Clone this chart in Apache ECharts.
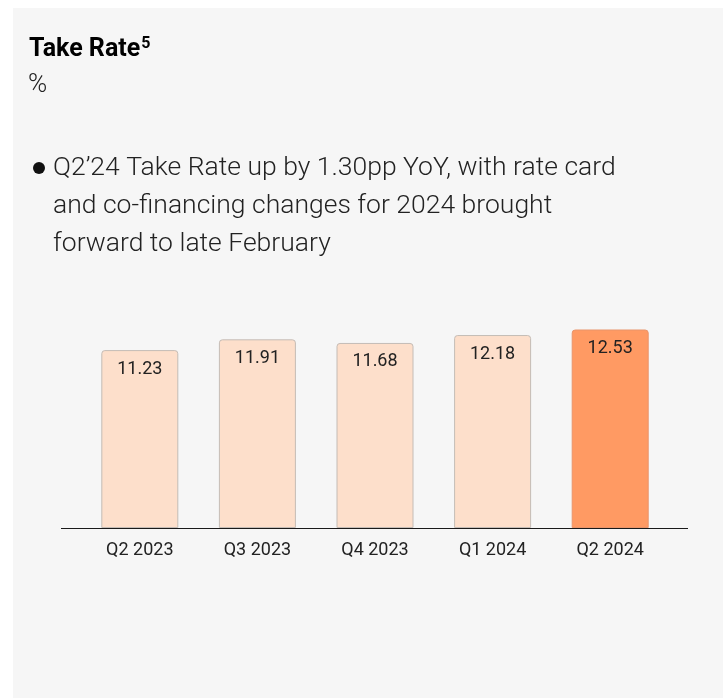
<!DOCTYPE html>
<html>
<head>
<meta charset="utf-8">
<script src="https://cdn.jsdelivr.net/npm/echarts@6/dist/echarts.min.js"></script>
<style>
  html, body { margin: 0; padding: 0; background: #ffffff; }
  #takeRateChart { width: 723px; height: 698px; }
</style>
</head>
<body>
<div id="takeRateChart"></div>
<script>
var quarters = ['Q2 2023', 'Q3 2023', 'Q4 2023', 'Q1 2024', 'Q2 2024'];
var takeRate = [11.23, 11.91, 11.68, 12.18, 12.53];
var bulletText = [
  'Q2\u201924 Take Rate up by 1.30pp YoY, with rate card',
  'and co-financing changes for 2024 brought',
  'forward to late February'
];

var myChart = echarts.init(document.getElementById('takeRateChart'));

var option = {
  backgroundColor: '#ffffff',
  animation: false,
  textStyle: {
    fontFamily: 'Roboto'
  },
  graphic: [
    {
      // card background
      type: 'rect',
      z: -10,
      shape: { x: 13, y: 8, width: 710, height: 690 },
      style: { fill: '#f6f6f6' }
    },
    {
      type: 'text',
      left: 29,
      top: 36,
      style: {
        text: '{b|Take Rate}{s|5}',
        rich: {
          b: { fontFamily: 'Roboto', fontSize: 25, fontWeight: 'bold', color: '#111', lineHeight: 28 },
          s: { fontFamily: 'Roboto', fontSize: 16, fontWeight: 'bold', color: '#111', padding: [0, 0, 12, 1] }
        }
      }
    },
    {
      type: 'text',
      left: 28,
      top: 72,
      style: {
        text: '%',
        fontFamily: 'Roboto',
        fontSize: 26,
        fontWeight: 300,
        fill: '#222'
      }
    },
    {
      type: 'circle',
      shape: { cx: 39, cy: 168, r: 6 },
      style: { fill: '#111' }
    },
    {
      type: 'text',
      left: 53,
      top: 149,
      style: {
        text: bulletText.join('\n'),
        fontFamily: 'Roboto',
        fontSize: 26.5,
        fontWeight: 300,
        lineHeight: 38,
        fill: '#222'
      }
    },
    {
      // base line, wider than the plot area
      type: 'line',
      shape: { x1: 61, y1: 528.5, x2: 688, y2: 528.5 },
      style: { stroke: '#1a1a1a', lineWidth: 1.2 },
      z: 10
    }
  ],
  grid: {
    left: 81,
    right: 54,
    top: 329.5,
    bottom: 170
  },
  xAxis: {
    type: 'category',
    data: quarters,
    axisLine: { show: false },
    axisTick: { show: false },
    axisLabel: {
      margin: 13,
      fontSize: 18,
      color: '#222'
    }
  },
  yAxis: {
    type: 'value',
    min: 0,
    max: 12.53,
    show: false,
    splitLine: { show: false }
  },
  series: [
    {
      type: 'bar',
      data: takeRate.map(function (v, i) {
        var last = i === takeRate.length - 1;
        return {
          value: v,
          itemStyle: {
            color: last ? '#ff9a63' : '#fddfcb',
            borderColor: last ? '#e9946a' : '#c4bcb6',
            borderWidth: 1
          }
        };
      }),
      barWidth: 77,
      itemStyle: {
        borderRadius: [3, 3, 0, 0]
      },
      label: {
        show: true,
        position: 'insideTop',
        distance: 10,
        fontSize: 18,
        color: '#222',
        formatter: function (p) {
          return p.value.toFixed(2);
        }
      }
    }
  ]
};

if (option && typeof option === 'object') {
  myChart.setOption(option);
}

window.addEventListener('resize', myChart.resize);
</script>
</body>
</html>
